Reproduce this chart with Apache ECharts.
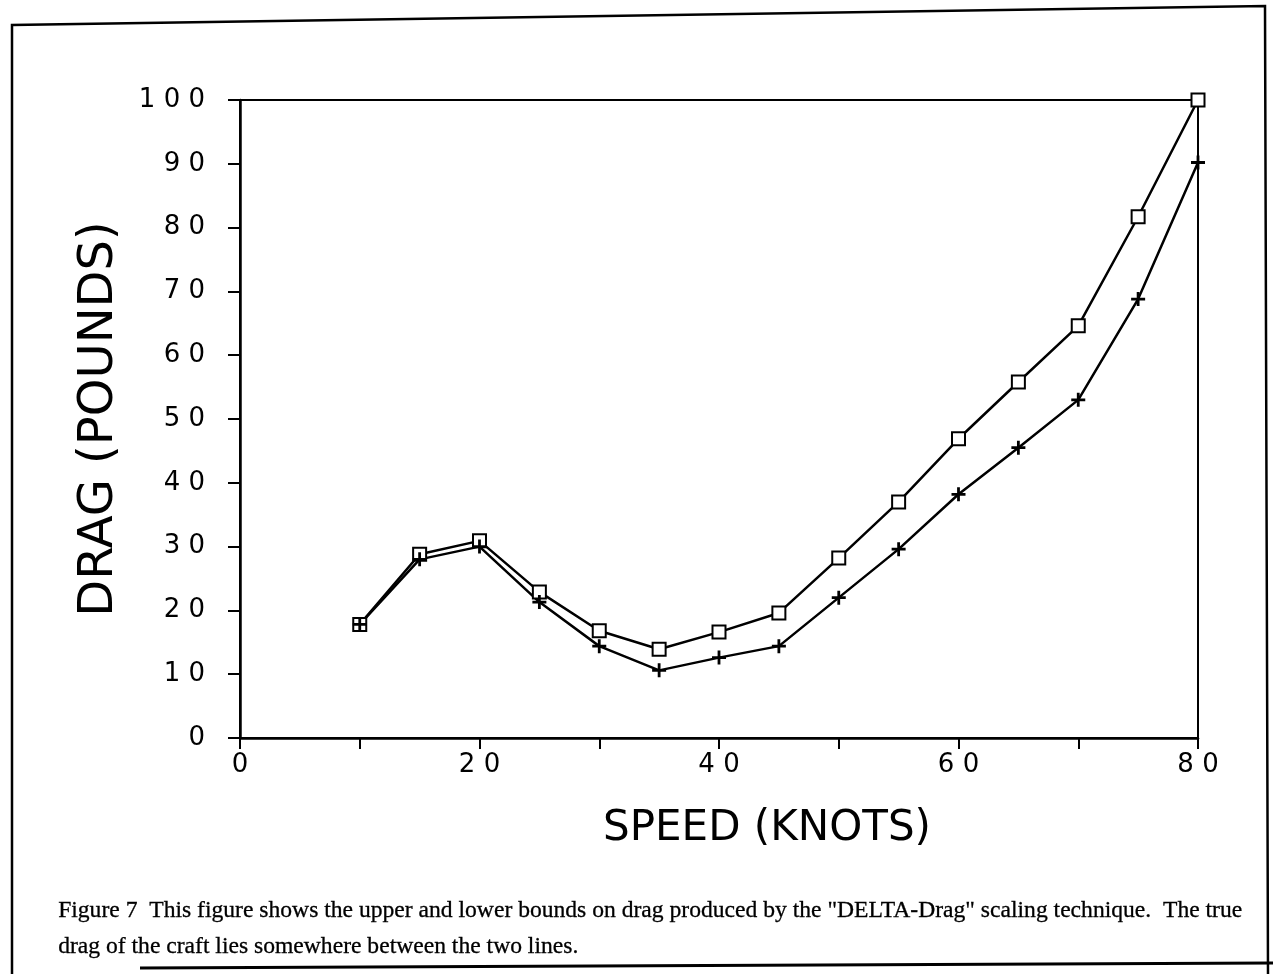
<!DOCTYPE html>
<html>
<head>
<meta charset="utf-8">
<title>Figure 7 - DELTA-Drag bounds</title>
<script src="https://cdn.jsdelivr.net/npm/echarts@6/dist/echarts.min.js"></script>
<style>
  html, body { margin: 0; padding: 0; background: #fff; }
  #chart { width: 1273px; height: 974px; }
</style>
</head>
<body>
<div id="chart"></div>
<script>
  // speed in knots, drag in pounds
  const speeds = [10, 15, 20, 25, 30, 35, 40, 45, 50, 55, 60, 65, 70, 75, 80];
  const upperDrag = [17.8, 28.8, 30.9, 22.9, 16.8, 13.9, 16.6, 19.6, 28.2, 37.0, 46.9, 55.8, 64.6, 81.7, 100];
  const lowerDrag = [17.8, 28.0, 30.0, 21.3, 14.4, 10.6, 12.6, 14.4, 22.0, 29.6, 38.2, 45.5, 53.0, 68.8, 90.2];
  const xTicks = [0, 20, 40, 60, 80];

  const caption1 = 'Figure 7  This figure shows the upper and lower bounds on drag produced by the "DELTA-Drag" scaling technique.  The true';
  const caption2 = 'drag of the craft lies somewhere between the two lines.';

  const plus = 'path://M4,0H6V4H10V6H6V10H4V6H0V4H4Z';

  function pairs(ys) {
    let out = [];
    for (let i = 0; i < speeds.length; i++) {
      out.push([speeds[i], ys[i]]);
    }
    return out;
  }
  function spaced(v) {
    return String(v).split('').join(' ');
  }

  const chart = echarts.init(document.getElementById('chart'));
  chart.setOption({
    backgroundColor: '#fff',
    animation: false,
    textStyle: { fontFamily: 'DejaVu Sans', color: '#000' },
    grid: {
      left: 240, right: 75, top: 100, bottom: 236,
      show: true, borderColor: '#000', borderWidth: 2
    },
    xAxis: {
      type: 'value',
      min: 0, max: 80, interval: 10,
      name: 'SPEED (KNOTS)',
      nameLocation: 'middle',
      nameGap: 70,
      nameTextStyle: { fontSize: 42, color: '#000', padding: [0, 0, 0, 96] },
      axisLine: { lineStyle: { color: '#000', width: 2.5 } },
      axisTick: { length: 11, inside: false, lineStyle: { color: '#000', width: 2 } },
      axisLabel: {
        margin: 14, fontSize: 26, color: '#000',
        formatter: v => (xTicks.indexOf(v) >= 0 ? spaced(v) : '')
      },
      splitLine: { show: false }
    },
    yAxis: {
      type: 'value',
      min: 0, max: 100, interval: 10,
      name: 'DRAG (POUNDS)',
      nameLocation: 'middle',
      nameGap: 116,
      nameTextStyle: { fontSize: 48, color: '#000' },
      axisLine: { show: true, lineStyle: { color: '#000', width: 2.5 } },
      axisTick: { show: true, length: 12, lineStyle: { color: '#000', width: 2 } },
      axisLabel: { margin: 35, fontSize: 26, color: '#000', formatter: v => spaced(v) },
      splitLine: { show: false }
    },
    series: [
      // upper bound
      {
        name: 'upper',
        type: 'line',
        data: pairs(upperDrag),
        symbol: 'rect',
        symbolSize: 13,
        showAllSymbol: true,
        lineStyle: { color: '#000', width: 2.5 },
        itemStyle: { color: '#fff', borderColor: '#000', borderWidth: 2 }
      },
      // lower bound
      {
        name: 'lower',
        type: 'line',
        data: pairs(lowerDrag),
        symbol: plus,
        symbolSize: 14,
        showAllSymbol: true,
        lineStyle: { color: '#000', width: 2.5 },
        itemStyle: { color: '#000', borderWidth: 0 }
      }
    ],
    graphic: [
      {
        type: 'polyline',
        shape: { points: [[12, 974], [12, 25], [1265, 6], [1268, 974]] },
        style: { stroke: '#000', lineWidth: 2.5, fill: null }
      },
      {
        type: 'line',
        shape: { x1: 140, y1: 968, x2: 1273, y2: 963 },
        style: { stroke: '#000', lineWidth: 3 }
      },
      {
        type: 'text', left: 58, top: 899,
        style: { text: caption1, font: '23.6px "Liberation Serif"', fill: '#000', stroke: '#000', lineWidth: 0.3 }
      },
      {
        type: 'text', left: 58, top: 935,
        style: { text: caption2, font: '23.6px "Liberation Serif"', fill: '#000', stroke: '#000', lineWidth: 0.3 }
      }
    ]
  });
</script>
</body>
</html>
